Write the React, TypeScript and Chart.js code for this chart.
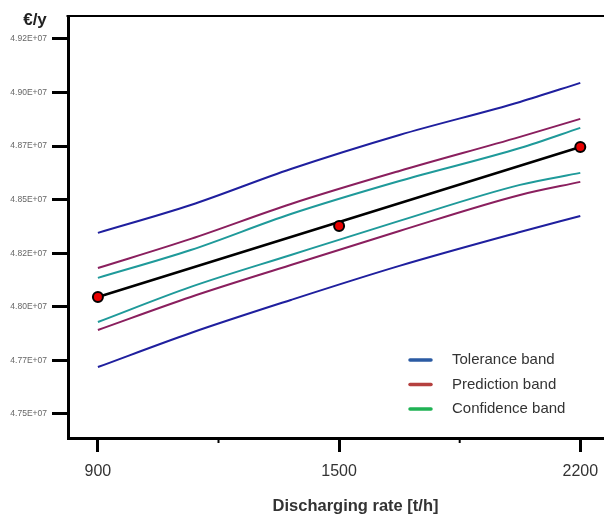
import React, { useEffect, useRef } from 'react';
import { Chart, registerables } from 'chart.js';
Chart.register(...registerables);

const FONT = '"Liberation Sans", Arial, sans-serif';

// X axis: three equally spaced categories (index positions) and minor ticks in between
const xCategories = ['900', '1500', '2200'];
const xCategoryPos = [0, 1, 2];
const xMinorPos = [0.5, 1.5];

// Y axis ticks
const yTickValues = [4.75e7, 4.775e7, 4.8e7, 4.825e7, 4.85e7, 4.875e7, 4.9e7, 4.925e7];
const yTickLabels = ['4.75E+07', '4.77E+07', '4.80E+07', '4.82E+07', '4.85E+07', '4.87E+07', '4.90E+07', '4.92E+07'];

// Observed points and fitted line (at category positions)
const observed = [4.8046e7, 4.8377e7, 4.8746e7];
const fitLine = [4.8046e7, 4.8396e7, 4.8746e7];

// Band curves sampled along the index axis
const bandPos = [0, 0.385, 0.8, 1.25, 1.75, 2];
const toleranceUpper = [4.8345e7, 4.8475e7, 4.8643e7, 4.8802e7, 4.8956e7, 4.9045e7];
const predictionUpper = [4.8181e7, 4.8317e7, 4.848e7, 4.8634e7, 4.8793e7, 4.8877e7];
const confidenceUpper = [4.8135e7, 4.8265e7, 4.8433e7, 4.8587e7, 4.8741e7, 4.8835e7];
const confidenceLower = [4.7929e7, 4.8093e7, 4.8242e7, 4.8401e7, 4.8569e7, 4.8625e7];
const predictionLower = [4.7892e7, 4.8046e7, 4.8195e7, 4.8354e7, 4.8522e7, 4.8583e7];
const toleranceLower = [4.7719e7, 4.7878e7, 4.8032e7, 4.8191e7, 4.8349e7, 4.8424e7];

// Legend
const legendLabels = ['Tolerance band', 'Prediction band', 'Confidence band'];
const legendColors = ['#2b5ba3', '#b5403f', '#1fb254'];

const BLUE = '#1f1f9e';
const PURPLE = '#8a1f5e';
const TEAL = '#1f9a9a';

const toXY = (xs: number[], ys: number[]) => xs.map((x, i) => ({ x, y: ys[i] }));

const decorPlugin = {
  id: 'decor',
  afterDraw(chart: any) {
    const { ctx, chartArea, scales } = chart;
    ctx.save();
    // top border
    ctx.strokeStyle = '#000';
    ctx.lineWidth = 2;
    ctx.beginPath();
    ctx.moveTo(chartArea.left - 1.5, chartArea.top);
    ctx.lineTo(chartArea.right, chartArea.top);
    ctx.stroke();
    // minor x ticks
    ctx.lineWidth = 2;
    xMinorPos.forEach((v) => {
      const px = scales.x.getPixelForValue(v);
      ctx.beginPath();
      ctx.moveTo(px, chartArea.bottom);
      ctx.lineTo(px, chartArea.bottom + 5);
      ctx.stroke();
    });
    // y unit title
    ctx.fillStyle = '#222';
    ctx.font = `bold 17px ${FONT}`;
    ctx.textAlign = 'center';
    ctx.textBaseline = 'alphabetic';
    ctx.fillText('€/y', chartArea.left - 33, chartArea.top + 9);
    // legend
    const lx = chartArea.left + 340;
    const ly = chartArea.bottom - 78;
    ctx.font = `15px ${FONT}`;
    ctx.textAlign = 'left';
    ctx.textBaseline = 'middle';
    ctx.lineCap = 'round';
    legendLabels.forEach((label, i) => {
      const y = ly + i * 24.5;
      ctx.strokeStyle = legendColors[i];
      ctx.lineWidth = 3.5;
      ctx.beginPath();
      ctx.moveTo(lx + 2, y);
      ctx.lineTo(lx + 23, y);
      ctx.stroke();
      ctx.fillStyle = '#333';
      ctx.fillText(label, lx + 44, y);
    });
    ctx.restore();
  },
};

export default function App() {
  const canvasRef = useRef<HTMLCanvasElement | null>(null);

  useEffect(() => {
    document.body.style.margin = '0';
    document.body.style.overflow = 'hidden';
    const canvas = canvasRef.current;
    if (!canvas) return;

    const band = (data: number[], color: string) => ({
      type: 'line',
      data: toXY(bandPos, data),
      borderColor: color,
      borderWidth: 2,
      pointRadius: 0,
      tension: 0.4,
      cubicInterpolationMode: 'monotone',
      fill: false,
      order: 3,
    });

    const chart = new Chart(canvas, {
      type: 'line',
      data: {
        datasets: [
          {
            type: 'line',
            data: toXY(xCategoryPos, observed),
            showLine: false,
            pointRadius: 5,
            pointBackgroundColor: '#e80000',
            pointBorderColor: '#000',
            pointBorderWidth: 2,
            order: 0,
          },
          {
            type: 'line',
            data: toXY(xCategoryPos, fitLine),
            borderColor: '#000',
            borderWidth: 2.5,
            pointRadius: 0,
            tension: 0,
            order: 1,
          },
          band(toleranceUpper, BLUE),
          band(predictionUpper, PURPLE),
          band(confidenceUpper, TEAL),
          band(confidenceLower, TEAL),
          band(predictionLower, PURPLE),
          band(toleranceLower, BLUE),
        ] as any,
      },
      options: {
        animation: false,
        responsive: false,
        maintainAspectRatio: false,
        layout: { padding: { top: 16, right: 0, bottom: 0, left: 0 } },
        plugins: { legend: { display: false }, tooltip: { enabled: false } },
        scales: {
          x: {
            type: 'linear',
            min: -0.124,
            max: 2.26,
            afterBuildTicks: (s: any) => {
              s.ticks = xCategoryPos.map((v) => ({ value: v }));
            },
            afterFit: (s: any) => {
              s.height = 515 - 438;
            },
            ticks: {
              callback: (v: any) => xCategories[xCategoryPos.indexOf(Number(v))],
              font: { size: 16, family: FONT },
              color: '#333',
              padding: 10,
              maxRotation: 0,
              autoSkip: false,
            },
            grid: { drawOnChartArea: false, drawTicks: true, tickLength: 14, tickWidth: 3, tickColor: '#000' },
            border: { display: true, color: '#000', width: 3 },
            title: {
              display: true,
              text: 'Discharging rate [t/h]',
              font: { size: 16.5, weight: 'bold', family: FONT, lineHeight: 1 },
              color: '#333',
              padding: { top: 0, bottom: 0 },
            },
          },
          y: {
            type: 'linear',
            min: 4.7388e7,
            max: 4.9357e7,
            afterBuildTicks: (s: any) => {
              s.ticks = yTickValues.map((v) => ({ value: v }));
            },
            afterFit: (s: any) => {
              s.width = 68;
            },
            ticks: {
              callback: (v: any) => yTickLabels[yTickValues.indexOf(Number(v))],
              font: { size: 8.5, family: FONT },
              color: '#666',
              padding: 5,
              autoSkip: false,
            },
            grid: { drawOnChartArea: false, drawTicks: true, tickLength: 16, tickWidth: 3, tickColor: '#000' },
            border: { display: true, color: '#000', width: 3 },
          },
        },
      } as any,
      plugins: [decorPlugin],
    });

    return () => chart.destroy();
  }, []);

  return (
    <div style={{ width: 650, height: 515, position: 'relative' }}>
      <canvas ref={canvasRef} width={650} height={515} style={{ display: 'block' }} />
    </div>
  );
}
